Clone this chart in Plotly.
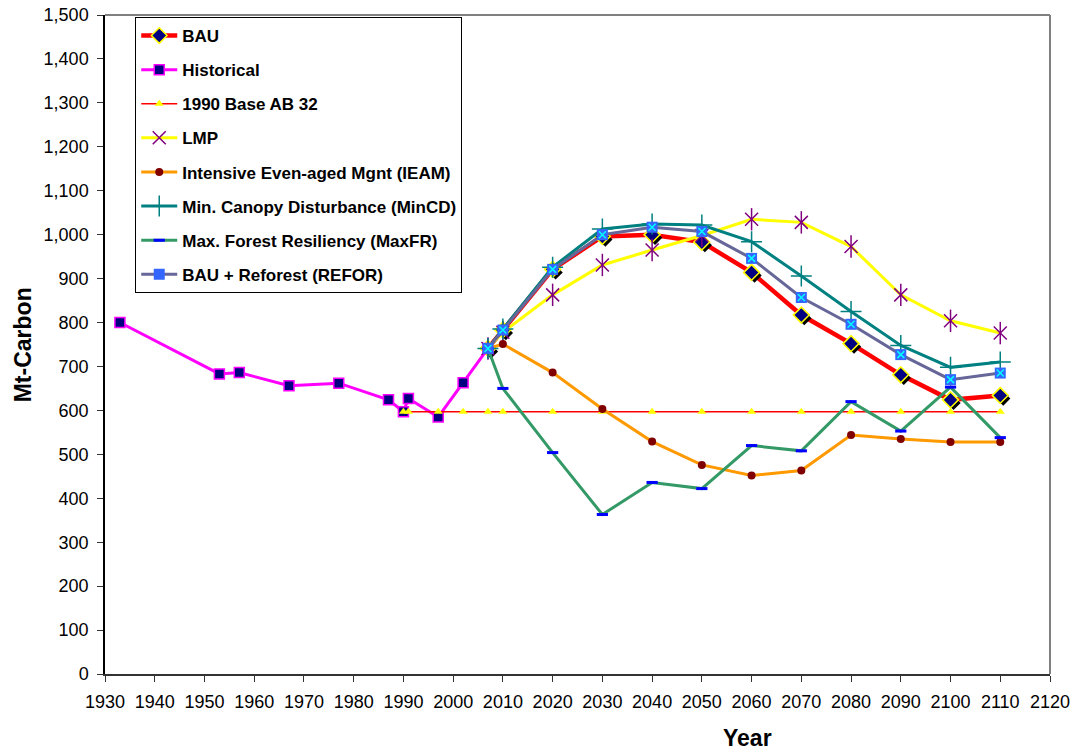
import plotly.graph_objects as go

# ---------------- data ----------------
hist_years = [1933, 1953, 1957, 1967, 1977, 1987, 1990, 1991, 1997, 2002, 2007]
hist_vals = [800, 683, 686, 656, 662, 624, 597, 627, 585, 663, 741]

ab32_years = [1990, 1991, 1997, 2002, 2007, 2010, 2020, 2030, 2040, 2050,
              2060, 2070, 2080, 2090, 2100, 2110]
ab32_vals = [597, 597, 597, 597, 597, 597, 597, 597, 597, 597,
             597, 597, 597, 597, 597, 597]

proj_years = [2007, 2010, 2020, 2030, 2040, 2050, 2060, 2070, 2080, 2090, 2100, 2110]
bau_vals = [741, 783, 921, 996, 1000, 983, 914, 817, 752, 681, 624, 634]
lmp_vals = [741, 778, 863, 931, 965, 998, 1035, 1028, 973, 863, 804, 776]
ieam_vals = [741, 751, 686, 603, 529, 476, 452, 463, 544, 535, 528, 528]
mincd_vals = [741, 785, 926, 1013, 1024, 1022, 984, 906, 825, 748, 698, 710]
maxfr_vals = [741, 650, 504, 363, 436, 422, 520, 508, 620, 553, 653, 538]
refor_vals = [741, 783, 921, 1000, 1017, 1007, 946, 857, 796, 727, 670, 685]

x_ticks = list(range(1930, 2121, 10))
y_ticks = list(range(0, 1501, 100))

FONT = "Liberation Sans, Arial, sans-serif"

fig = go.Figure()

# BAU
fig.add_trace(go.Scatter(
    x=proj_years, y=bau_vals, name="BAU", legendgroup="bau",
    mode="lines+markers", line=dict(color="#FF0000", width=4.5),
    marker=dict(symbol="diamond", size=12, color="#000080",
                line=dict(color="#FFFF00", width=1.5))))
fig.add_trace(go.Scatter(
    x=[v + 0.6 for v in proj_years], y=[v - 7 for v in bau_vals],
    legendgroup="bau", showlegend=False, mode="markers", hoverinfo="skip",
    marker=dict(symbol="diamond", size=11, color="#000000")))
fig.add_trace(go.Scatter(
    x=proj_years, y=bau_vals, legendgroup="bau", showlegend=False, mode="markers",
    marker=dict(symbol="diamond", size=12, color="#000080",
                line=dict(color="#FFFF00", width=1.5))))

# Historical
fig.add_trace(go.Scatter(
    x=hist_years, y=hist_vals, name="Historical", legendgroup="hist",
    mode="lines+markers", line=dict(color="#FF00FF", width=3),
    marker=dict(symbol="square", size=10, color="#000080",
                line=dict(color="#FF00FF", width=1.5))))

# 1990 Base AB 32
fig.add_trace(go.Scatter(
    x=ab32_years, y=ab32_vals, name="1990 Base AB 32", legendgroup="ab32",
    mode="lines+markers", line=dict(color="#FF0000", width=1.5),
    marker=dict(symbol="triangle-up", size=8, color="#FFFF00",
                line=dict(width=0))))

# LMP
fig.add_trace(go.Scatter(
    x=proj_years, y=lmp_vals, name="LMP", legendgroup="lmp",
    mode="lines+markers", line=dict(color="#FFFF00", width=3),
    marker=dict(symbol="x-thin-open", size=13, color="#800080",
                line=dict(color="#800080", width=1.5))))
fig.add_trace(go.Scatter(
    x=proj_years, y=lmp_vals, legendgroup="lmp", showlegend=False,
    mode="markers", hoverinfo="skip",
    marker=dict(symbol="line-ns-open", size=16, color="#800080",
                line=dict(color="#800080", width=1.5))))

# IEAM
fig.add_trace(go.Scatter(
    x=proj_years, y=ieam_vals, name="Intensive Even-aged Mgnt (IEAM)",
    legendgroup="ieam", mode="lines+markers",
    line=dict(color="#FF9900", width=3),
    marker=dict(symbol="circle", size=8, color="#800000", line=dict(width=0))))

# MinCD
fig.add_trace(go.Scatter(
    x=proj_years, y=mincd_vals, name="Min. Canopy Disturbance (MinCD)",
    legendgroup="mincd", mode="lines+markers",
    line=dict(color="#008080", width=3),
    marker=dict(symbol="cross-thin-open", size=15, color="#008080",
                line=dict(color="#008080", width=1.5))))

# MaxFR
fig.add_trace(go.Scatter(
    x=proj_years, y=maxfr_vals, name="Max. Forest Resiliency (MaxFR)",
    legendgroup="maxfr", mode="lines+markers",
    line=dict(color="#339966", width=3),
    marker=dict(symbol="line-ew-open", size=8, color="#0000FF",
                line=dict(color="#0000FF", width=3))))

# REFOR
fig.add_trace(go.Scatter(
    x=proj_years, y=refor_vals, name="BAU + Reforest (REFOR)",
    legendgroup="refor", mode="lines+markers",
    line=dict(color="#666699", width=3),
    marker=dict(symbol="square", size=11, color="#3366FF", line=dict(width=0))))
fig.add_trace(go.Scatter(
    x=proj_years, y=refor_vals, legendgroup="refor", showlegend=False,
    mode="markers", hoverinfo="skip",
    marker=dict(symbol="x-thin-open", size=7, color="#00FFFF",
                line=dict(color="#00FFFF", width=1.5))))

fig.update_layout(
    width=1074, height=751,
    margin=dict(l=105, r=24, t=15, b=77),
    paper_bgcolor="white", plot_bgcolor="white",
    font=dict(family=FONT, color="black"),
    showlegend=True,
    legend=dict(
        x=0.032, y=0.997, xanchor="left", yanchor="top",
        bgcolor="white", bordercolor="black", borderwidth=1,
        font=dict(family=FONT, size=17, color="black", weight="bold"),
        traceorder="grouped", tracegroupgap=9, itemwidth=36,
    ),
    xaxis=dict(
        range=[1930, 2120], tickvals=x_ticks, ticktext=[str(v) for v in x_ticks],
        showgrid=False, zeroline=False, showline=True, linecolor="#333333",
        linewidth=2, ticks="outside", ticklen=6, tickwidth=1, tickcolor="#333333",
        tickfont=dict(family=FONT, size=18, color="black"),
        automargin=False, ticklabelstandoff=4,
    ),
    yaxis=dict(
        range=[0, 1500], tickvals=y_ticks, tickformat=",",
        showgrid=False, zeroline=False, showline=True, linecolor="black",
        linewidth=1.5, ticks="outside", ticklen=6, tickwidth=1, tickcolor="#333333",
        tickfont=dict(family=FONT, size=18, color="black"),
        automargin=False, ticklabelstandoff=5,
    ),
    shapes=[
        dict(type="line", xref="paper", yref="paper", x0=0, x1=1, y0=1, y1=1,
             line=dict(color="#808080", width=2)),
        dict(type="line", xref="paper", yref="paper", x0=1, x1=1, y0=0, y1=1,
             line=dict(color="#808080", width=2)),
    ],
    annotations=[
        dict(text="<b>Mt-Carbon</b>", xref="paper", yref="paper",
             x=-0.087, y=0.5, xanchor="center", yanchor="middle",
             textangle=-90, showarrow=False,
             font=dict(family=FONT, size=23, color="black")),
        dict(text="<b>Year</b>", xref="paper", yref="paper",
             x=0.68, y=-0.097, xanchor="center", yanchor="middle",
             showarrow=False,
             font=dict(family=FONT, size=23, color="black")),
    ],
)

fig.write_html("out.html")
